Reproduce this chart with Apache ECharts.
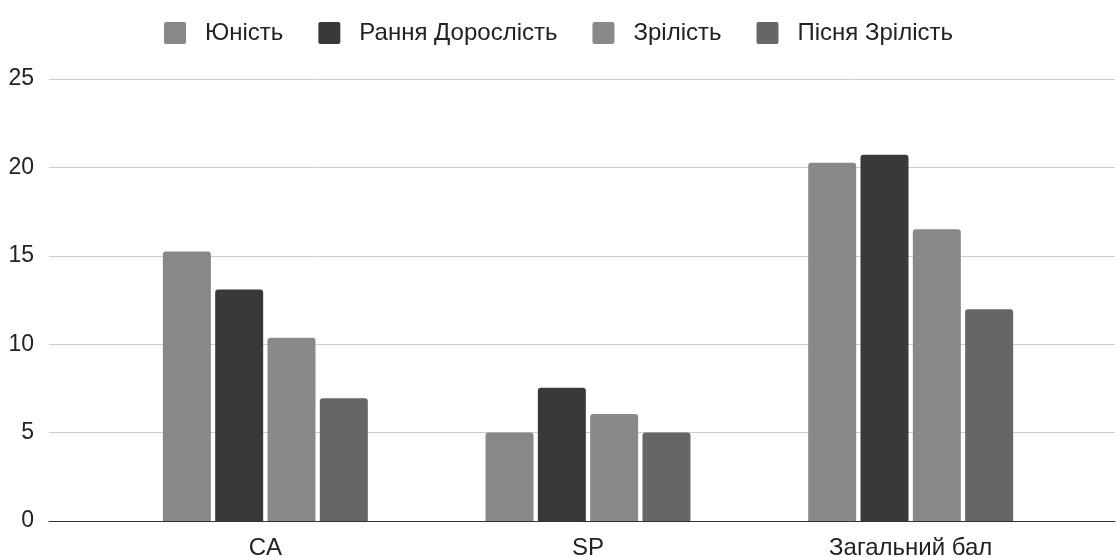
<!DOCTYPE html>
<html>
<head>
<meta charset="utf-8">
<script src="https://cdn.jsdelivr.net/npm/echarts@6/dist/echarts.min.js"></script>
<style>
html,body{margin:0;padding:0;background:#fff;}
#c{width:1117px;height:557px;}
</style>
</head>
<body>
<div id="c"></div>
<script>
const categories = ['CA', 'SP', 'Загальний бал'];
const seriesNames = ['Юність', 'Рання Дорослість', 'Зрілість', 'Пісня Зрілість'];
const youth = [15.25, 5.0, 20.27];
const earlyAdult = [13.1, 7.54, 20.72];
const maturity = [10.37, 6.05, 16.5];
const lateMaturity = [6.94, 5.0, 11.97];
const yTicks = [0, 5, 10, 15, 20, 25];

const colors = ['#888888', '#393939', '#898989', '#666666'];
const values = [youth, earlyAdult, maturity, lateMaturity];
const font = 'Liberation Sans, Arial, sans-serif';
const legendIcon = 'path://M2,0 H20 A2,2 0 0 1 22,2 V20 A2,2 0 0 1 20,22 H2 A2,2 0 0 1 0,20 V2 A2,2 0 0 1 2,0 Z';

const chart = echarts.init(document.getElementById('c'), null, {renderer: 'canvas'});
chart.setOption({
  animation: false,
  color: colors,
  textStyle: {fontFamily: font},
  legend: {
    top: 16,
    left: 'center',
    itemWidth: 22,
    itemHeight: 22,
    itemGap: 35,
    icon: legendIcon,
    textStyle: {fontSize: 24, color: '#222', fontFamily: font, padding: [0, 0, 0, 14]},
    data: seriesNames
  },
  grid: [
    {left: 104, right: 45, top: 79, bottom: 36, containLabel: false, outerBoundsMode: 'none'},
    {left: 49, right: 2, top: 79, bottom: 36, containLabel: false, outerBoundsMode: 'none'}
  ],
  xAxis: [
    {
      type: 'category', gridIndex: 0, data: categories,
      axisLine: {show: false}, axisTick: {show: false},
      axisLabel: {fontSize: 24, color: '#222', margin: 15, fontFamily: font}
    },
    {
      type: 'value', gridIndex: 1, min: 0, max: 1,
      axisLine: {show: true, lineStyle: {color: '#333', width: 1}},
      axisTick: {show: false}, axisLabel: {show: false}, splitLine: {show: false}
    }
  ],
  yAxis: [
    {
      type: 'value', gridIndex: 0, min: 0, max: 25, interval: 5,
      axisLabel: {show: false}, splitLine: {show: false}, axisLine: {show: false}, axisTick: {show: false}
    },
    {
      type: 'value', gridIndex: 1, min: yTicks[0], max: yTicks[yTicks.length - 1], interval: 5,
      axisLine: {show: false}, axisTick: {show: false},
      axisLabel: {fontSize: 23, color: '#222', margin: 15, fontFamily: font},
      splitLine: {show: true, lineStyle: {color: '#cccccc', width: 1}}
    }
  ],
  series: seriesNames.map((name, i) => ({
    name: name,
    type: 'bar',
    xAxisIndex: 0,
    yAxisIndex: 0,
    data: values[i],
    barWidth: 48,
    barGap: '9%',
    itemStyle: {color: colors[i], borderRadius: [3, 3, 0, 0]},
    z: 3
  }))
});
</script>
</body>
</html>
